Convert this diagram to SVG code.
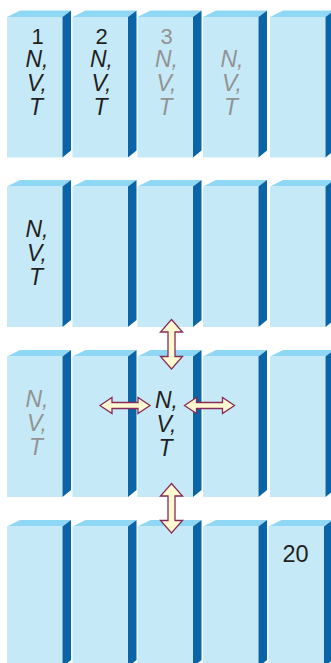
<svg xmlns="http://www.w3.org/2000/svg" width="331" height="663" viewBox="0 0 331 663">
<defs>
<style>
.front{fill:#c6e9f8}
.top{fill:#8fd8f5}
.side{fill:#0a64a6}
.t{font-family:"Liberation Sans",Arial,sans-serif;font-size:22px;text-anchor:middle}
.i{font-style:italic;font-size:23px}
.k{fill:#231f20}
.g{fill:#939393}
.arr{fill:#fffad0;stroke:#8a2a57;stroke-width:1.3;stroke-linejoin:miter}
</style>
<g id="col">
<polygon class="top" points="0,6.5 55.5,6.5 64,0 13,0"/>
<rect class="front" x="0" y="6.5" width="55.5" height="140.5"/>
<polygon class="side" points="55.5,6.5 64,0 64,140 55.5,147"/>
</g>
</defs>
<rect width="331" height="663" fill="#ffffff"/>
<g id="row1">
<use id="c1r1" href="#col" x="7" y="10.5"/>
<use id="c2r1" href="#col" x="72.5" y="10.5"/>
<use id="c3r1" href="#col" x="137.5" y="10.5"/>
<use id="c4r1" href="#col" x="203" y="10.5"/>
<use id="c5r1" href="#col" x="270" y="10.5"/>
</g>
<g id="row2">
<use id="c1r2" href="#col" x="7" y="180"/>
<use id="c2r2" href="#col" x="72.5" y="180"/>
<use id="c3r2" href="#col" x="137.5" y="180"/>
<use id="c4r2" href="#col" x="203" y="180"/>
<use id="c5r2" href="#col" x="270" y="180"/>
</g>
<g id="row3">
<use id="c1r3" href="#col" x="7" y="350"/>
<use id="c2r3" href="#col" x="72.5" y="350"/>
<use id="c3r3" href="#col" x="137.5" y="350"/>
<use id="c4r3" href="#col" x="203" y="350"/>
<use id="c5r3" href="#col" x="270" y="350"/>
</g>
<g id="row4">
<use id="c1r4" href="#col" x="7" y="520"/>
<use id="c2r4" href="#col" x="72.5" y="520"/>
<use id="c3r4" href="#col" x="137.5" y="520"/>
<use id="c4r4" href="#col" x="203" y="520"/>
<use id="c5r4" href="#col" x="268.5" y="520"/>
</g>
<g id="labels">
<g id="lab-1" class="t k">
<text x="37.5" y="43.5">1</text>
<text class="i" x="37" y="66.5">N,</text>
<text class="i" x="37" y="90.5">V,</text>
<text class="i" x="36" y="114.5">T</text>
</g>
<g id="lab-2" class="t k">
<text x="101.5" y="43.5">2</text>
<text class="i" x="101.5" y="66.5">N,</text>
<text class="i" x="101.5" y="90.5">V,</text>
<text class="i" x="100.5" y="114.5">T</text>
</g>
<g id="lab-3" class="t g">
<text x="166.5" y="43.5">3</text>
<text class="i" x="166.5" y="66.5">N,</text>
<text class="i" x="166.5" y="90.5">V,</text>
<text class="i" x="165.5" y="114.5">T</text>
</g>
<g id="lab-4" class="t g">
<text class="i" x="232" y="66.5">N,</text>
<text class="i" x="232" y="90.5">V,</text>
<text class="i" x="231" y="114.5">T</text>
</g>
<g id="lab-r2" class="t k">
<text class="i" x="37" y="236.5">N,</text>
<text class="i" x="37" y="260.5">V,</text>
<text class="i" x="36" y="284.5">T</text>
</g>
<g id="lab-r3a" class="t g">
<text class="i" x="37" y="407">N,</text>
<text class="i" x="37" y="431">V,</text>
<text class="i" x="36" y="455">T</text>
</g>
<g id="lab-r3c" class="t k">
<text class="i" x="166.5" y="408">N,</text>
<text class="i" x="166.5" y="432">V,</text>
<text class="i" x="165.5" y="456">T</text>
</g>
<g id="lab-20" class="t k">
<text x="295.5" y="562" style="font-size:23.5px">20</text>
</g>
</g>
<g id="connectors">
<polygon class="arr" points="171.5,319.5 182.5,332 175,332 175,356.5 182.5,356.5 171.5,369 160.5,356.5 168,356.5 168,332 160.5,332"/>
<polygon class="arr" points="171.5,483.5 182.5,496 175,496 175,520.5 182.5,520.5 171.5,533 160.5,520.5 168,520.5 168,496 160.5,496"/>
<polygon class="arr" points="100,405.5 112,397.5 112,402.5 138,402.5 138,397.5 150,405.5 138,413.5 138,408.5 112,408.5 112,413.5"/>
<polygon class="arr" points="184.5,405.5 196.5,397.5 196.5,402.5 222.5,402.5 222.5,397.5 234.5,405.5 222.5,413.5 222.5,408.5 196.5,408.5 196.5,413.5"/>
</g>
</svg>
